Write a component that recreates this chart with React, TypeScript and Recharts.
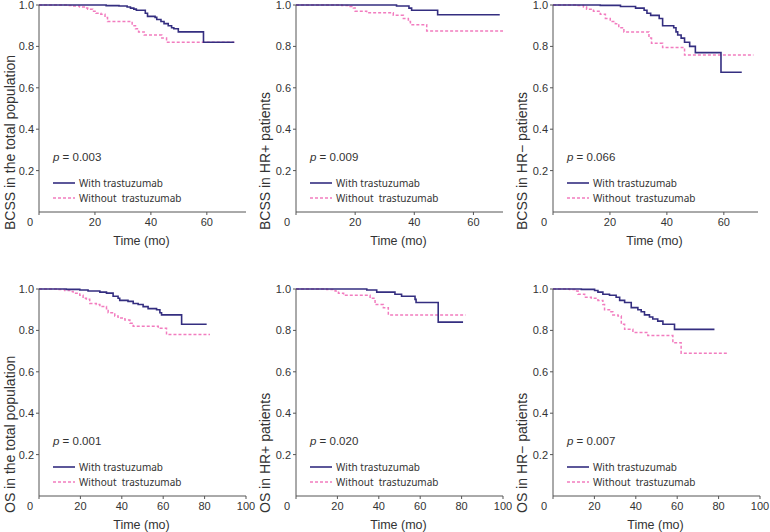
import React from "react";
import { LineChart, Line, XAxis, YAxis } from "recharts";

// Kaplan-Meier estimates: [month, survival]
const bcssTotalWith: [number, number][] = [
  [0, 1], [24, 0.997], [28.6, 0.995], [31.5, 0.99], [32.7, 0.985], [33.9, 0.98], [34.8, 0.975],
  [38, 0.96], [38.8, 0.945], [41.5, 0.94], [42.1, 0.93], [43.6, 0.92], [44.7, 0.91], [46.2, 0.9],
  [47.4, 0.89], [48.2, 0.885], [49.8, 0.87], [58.8, 0.82], [69.8, 0.82],
];
const bcssTotalWithout: [number, number][] = [
  [0, 1], [10.4, 0.998], [12, 0.995], [14.5, 0.99], [16.2, 0.985], [17.4, 0.98], [19.2, 0.97],
  [20.4, 0.96], [22.1, 0.955], [23.6, 0.94], [24.5, 0.92], [33.3, 0.9], [34.5, 0.885], [35.6, 0.87],
  [37.6, 0.855], [43.9, 0.84], [45.6, 0.82], [69.8, 0.82],
];
const bcssHrPosWith: [number, number][] = [
  [0, 1], [34, 0.995], [38.2, 0.985], [39.1, 0.975], [47.9, 0.953], [68.9, 0.953],
];
const bcssHrPosWithout: [number, number][] = [
  [0, 1], [15.5, 0.997], [18.3, 0.993], [19.4, 0.985], [20, 0.97], [23.9, 0.962], [32.9, 0.95],
  [36.3, 0.935], [38, 0.92], [38.7, 0.905], [44.2, 0.875], [70, 0.875],
];
const bcssHrNegWith: [number, number][] = [
  [0, 1], [16.6, 0.998], [23.7, 0.993], [29, 0.985], [32, 0.975], [33, 0.96], [34.3, 0.95],
  [37.3, 0.935], [38.5, 0.9], [42.4, 0.89], [43.2, 0.87], [43.8, 0.855], [45, 0.84], [46.2, 0.82],
  [48, 0.8], [50, 0.77], [59, 0.675], [66.3, 0.675],
];
const bcssHrNegWithout: [number, number][] = [
  [0, 1], [8.3, 0.997], [10.7, 0.99], [11.8, 0.98], [14.2, 0.97], [16.6, 0.955], [18.4, 0.935],
  [20.1, 0.92], [21.9, 0.91], [23.1, 0.89], [24.9, 0.87], [33.7, 0.84], [34.6, 0.815], [38.5, 0.795],
  [46.2, 0.758], [70.4, 0.758],
];
const osTotalWith: [number, number][] = [
  [0, 1], [13.2, 0.998], [19.7, 0.995], [23.7, 0.99], [29.4, 0.985], [32.6, 0.98], [35.8, 0.965],
  [38.2, 0.955], [39, 0.945], [43, 0.94], [45.5, 0.93], [47.9, 0.925], [50.3, 0.915], [52.7, 0.905],
  [56.8, 0.9], [58.4, 0.885], [59.2, 0.875], [68.9, 0.83], [81, 0.83],
];
const osTotalWithout: [number, number][] = [
  [0, 1], [9.2, 0.997], [12.4, 0.993], [14.8, 0.988], [16.5, 0.98], [19.7, 0.97], [21.3, 0.955],
  [22.9, 0.95], [24.5, 0.93], [27.7, 0.925], [29.4, 0.915], [32.6, 0.905], [33.4, 0.885], [36.6, 0.87],
  [38.2, 0.86], [41.5, 0.85], [43.9, 0.835], [45.5, 0.82], [57.6, 0.81], [61.6, 0.78], [82.6, 0.78],
];
const osHrPosWith: [number, number][] = [
  [0, 1], [34.2, 0.995], [39, 0.985], [47.8, 0.975], [51, 0.965], [57.5, 0.95], [58, 0.935],
  [68.7, 0.84], [80.7, 0.84],
];
const osHrPosWithout: [number, number][] = [
  [0, 1], [14.9, 0.997], [18.9, 0.99], [20.5, 0.98], [23, 0.97], [35.8, 0.955], [38.2, 0.925],
  [42.2, 0.91], [44.6, 0.875], [81.9, 0.875],
];
const osHrNegWith: [number, number][] = [
  [0, 1], [13.7, 0.998], [20.1, 0.993], [21.7, 0.985], [24.1, 0.975], [27.3, 0.97], [30.5, 0.96],
  [32.2, 0.945], [34.6, 0.935], [37.8, 0.91], [41, 0.9], [42.6, 0.89], [44.2, 0.875], [46.6, 0.865],
  [48.2, 0.855], [50.6, 0.845], [53.1, 0.83], [58.7, 0.805], [78, 0.805],
];
const osHrNegWithout: [number, number][] = [
  [0, 1], [8, 0.997], [10.5, 0.99], [12.1, 0.975], [15.3, 0.96], [18.5, 0.955], [21.7, 0.945],
  [24.1, 0.925], [24.9, 0.9], [27.3, 0.89], [28.9, 0.875], [31.4, 0.87], [33, 0.83], [34.6, 0.805],
  [38.6, 0.79], [45.8, 0.775], [57.9, 0.74], [61.9, 0.69], [84.4, 0.69],
];

const yTicks = [0.2, 0.4, 0.6, 0.8, 1.0];
const topXTicks = [0, 20, 40, 60];
const bottomXTicks = [0, 20, 40, 60, 80, 100];
const yLabels = [
  "BCSS in the total population", "BCSS in HR+ patients", "BCSS in HR\u2212 patients",
  "OS in the total population", "OS in HR+ patients", "OS in HR\u2212  patients",
];
const pValues = ["0.003", "0.009", "0.066", "0.001", "0.020", "0.007"];
const xMaxes = [74, 70, 72, 100, 100, 100];

const NAVY = "#342e80";
const PINK = "#f27cbf";
const AXIS = "#555";
const TEXT = "#333";

const toRows = (pts: [number, number][]) => pts.map(([t, s]) => ({ t, s }));

type PanelCfg = {
  left: number; top: number; width: number; height: number;
  plotLeft: number; plotTop: number; plotW: number; plotH: number;
  xMax: number; xTicks: number[]; yLabel: string; p: string;
  withData: [number, number][]; withoutData: [number, number][];
  yLabelX: number; yLabelEnd: number;
};

const XTick = (props: any) => {
  const { x, y, payload } = props;
  const dx = payload.value === 0 ? -9 : 0;
  return (
    <text x={x + dx} y={y + 9} textAnchor="middle" fontSize={11} fill={TEXT}
      fontFamily="'Liberation Sans', Arial, sans-serif">
      {payload.value}
    </text>
  );
};

const YTick = (props: any) => {
  const { x, y, payload } = props;
  return (
    <text x={x} y={y + 4} textAnchor="end" fontSize={11} fill={TEXT}
      fontFamily="'Liberation Sans', Arial, sans-serif">
      {payload.value.toFixed(1)}
    </text>
  );
};

function Panel({ c }: { c: PanelCfg }) {
  const right = c.width - c.plotLeft - c.plotW;
  const xAxisH = c.height - c.plotTop - c.plotH;
  const plotBottom = c.plotTop + c.plotH;
  const lx = c.plotLeft + 14;
  return (
    <div style={{ position: "absolute", left: c.left, top: c.top }}>
      <LineChart width={c.width} height={c.height} margin={{ top: c.plotTop, right, bottom: 0, left: 0 }}>
        <XAxis type="number" dataKey="t" domain={[0, c.xMax]} ticks={c.xTicks} interval={0}
          allowDataOverflow stroke={AXIS} tickSize={3} height={xAxisH} tick={<XTick />} />
        <YAxis type="number" dataKey="s" domain={[0, 1]} ticks={yTicks} interval={0}
          stroke={AXIS} tickSize={3} width={c.plotLeft} tick={<YTick />} />
        <Line data={toRows(c.withoutData)} dataKey="s" type="stepAfter" stroke={PINK} strokeWidth={1.5}
          strokeDasharray="3 2" dot={false} isAnimationActive={false} />
        <Line data={toRows(c.withData)} dataKey="s" type="stepAfter" stroke={NAVY} strokeWidth={1.6}
          dot={false} isAnimationActive={false} />
        <text x={c.plotLeft + c.plotW / 2 - 1} y={plotBottom + 28 + 4.5} textAnchor="middle"
          fontSize={12.5} fill={TEXT} fontFamily="'Liberation Sans', Arial, sans-serif">
          Time (mo)
        </text>
        <text x={c.yLabelX} y={c.yLabelEnd} transform={`rotate(-90, ${c.yLabelX}, ${c.yLabelEnd})`}
          dy="0.35em" textAnchor="start" fontSize={14} fill={TEXT}
          fontFamily="'Liberation Sans', Arial, sans-serif">
          {c.yLabel}
        </text>
        <text x={lx} y={plotBottom - 55 + 4} fontSize={11.5} fill={TEXT}
          fontFamily="'Liberation Sans', Arial, sans-serif">
          <tspan fontStyle="italic">p</tspan> = {c.p}
        </text>
        <line x1={lx} x2={lx + 22} y1={plotBottom - 29} y2={plotBottom - 29} stroke={NAVY} strokeWidth={1.6} />
        <text x={lx + 26} y={plotBottom - 29 + 3.5} fontSize={10} fill={TEXT}
          fontFamily="'Noto Sans', sans-serif">With trastuzumab</text>
        <line x1={lx} x2={lx + 22} y1={plotBottom - 14} y2={plotBottom - 14} stroke={PINK} strokeWidth={1.5}
          strokeDasharray="3 2" />
        <text x={lx + 26} y={plotBottom - 14 + 3.5} fontSize={10} fill={TEXT} xmlSpace="preserve"
          fontFamily="'Noto Sans', sans-serif" style={{ whiteSpace: "pre" }}>Without  trastuzumab</text>
      </LineChart>
    </div>
  );
}

const series: [[number, number][], [number, number][]][] = [
  [bcssTotalWith, bcssTotalWithout],
  [bcssHrPosWith, bcssHrPosWithout],
  [bcssHrNegWith, bcssHrNegWithout],
  [osTotalWith, osTotalWithout],
  [osHrPosWith, osHrPosWithout],
  [osHrNegWith, osHrNegWithout],
];

const colLeft = [0, 255, 510];
const plotLefts = [39, 41, 43];

const panels: PanelCfg[] = series.map(([w, wo], i) => {
  const row = Math.floor(i / 3);
  const col = i % 3;
  const top = row === 0;
  return {
    left: colLeft[col], top: top ? 0 : 280, width: col === 2 ? 260 : 262, height: top ? 250 : 252,
    plotLeft: plotLefts[col], plotTop: top ? 5 : 9, plotW: col === 2 && top ? 205 : 207, plotH: 207,
    xMax: xMaxes[i], xTicks: top ? topXTicks : bottomXTicks, yLabel: yLabels[i], p: pValues[i],
    withData: w, withoutData: wo, yLabelX: col === 2 ? 12 : 10,
    yLabelEnd: top ? 230 : 233,
  };
});

export default function App() {
  return (
    <div style={{ position: "absolute", left: 0, top: 0, width: 770, height: 532, background: "#fff" }}>
      {panels.map((c, i) => <Panel key={i} c={c} />)}
    </div>
  );
}
